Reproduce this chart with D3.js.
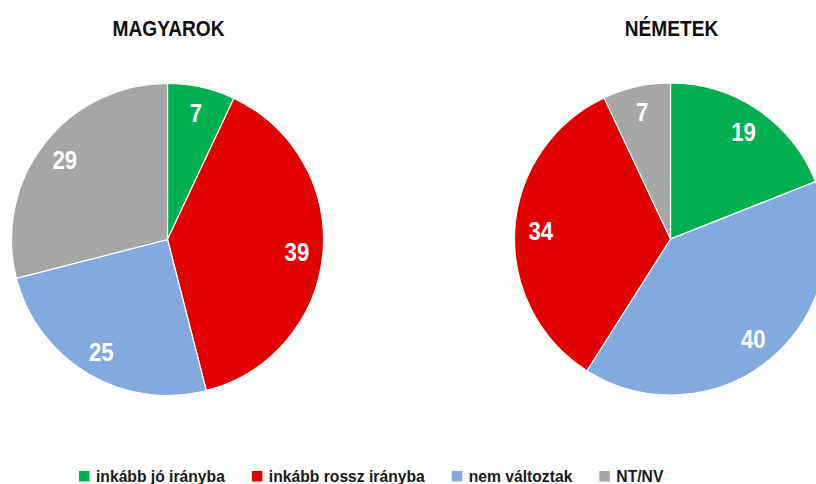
<!DOCTYPE html>
<html><head><meta charset="utf-8">
<script src="https://cdn.jsdelivr.net/npm/d3@7"></script>
<style>
html,body{margin:0;padding:0;background:#fff;}
svg{display:block;}
text{font-family:"Liberation Sans",Arial,sans-serif;font-weight:bold;}
</style></head>
<body>
<svg id="c" width="816" height="484"></svg>
<script>
const categories = ["inkább jó irányba","inkább rossz irányba","nem változtak","NT/NV"];
const colors = ["#00B050","#E00000","#82AADF","#A6A6A6"];
const titles = ["MAGYAROK","NÉMETEK"];
const magyarok = [7,39,25,29];
const nemetek = [19,34,40,7];
// clockwise slice order from 12 o'clock (indices into categories)
const orderMagyarok = [0,1,2,3];
const orderNemetek = [0,2,1,3];

const svg = d3.select("#c");
const R = 156, labelR = 130;
const sx = 0.87;

const pies = [
  {title:titles[0], values:magyarok, order:orderMagyarok, cx:167.5, cy:239.5},
  {title:titles[1], values:nemetek, order:orderNemetek, cx:670.5, cy:239}
];

const pie = d3.pie().sort(null).value(d => d.v);
const arc = d3.arc().innerRadius(0).outerRadius(R);
const labelArc = d3.arc().innerRadius(labelR).outerRadius(labelR);

pies.forEach(p => {
  const data = p.order.map(i => ({i, v:p.values[i]}));
  const g = svg.append("g").attr("transform", `translate(${p.cx},${p.cy})`);
  const arcs = pie(data);
  g.selectAll("path").data(arcs).join("path")
    .attr("d", arc)
    .attr("fill", d => colors[d.data.i])
    .attr("stroke", "#fff").attr("stroke-width", 1.2);
  g.selectAll("text.lbl").data(arcs).join("text").attr("class","lbl")
    .attr("transform", d => { const c = labelArc.centroid(d); return `translate(${c[0]},${c[1]}) scale(${sx},1)`; })
    .attr("text-anchor","middle").attr("dy","0.36em")
    .attr("fill","#fff").attr("font-size", 25.5)
    .text(d => d.data.v);
  svg.append("text")
    .attr("transform", `translate(${p.cx+1},36) scale(${sx},1)`)
    .attr("text-anchor","middle").attr("font-size", 22).attr("fill","#0d0d0d")
    .text(p.title);
});

// legend
const lg = svg.append("g");
let x = 79;
const ly = 476;
const lsx = 0.98;
categories.forEach((c,i) => {
  lg.append("rect").attr("x", x).attr("y", ly-5).attr("width",10.5).attr("height",10.5).attr("fill", colors[i]);
  const t = lg.append("text")
    .attr("transform", `translate(${x+17},${ly+5.8}) scale(${lsx},1)`)
    .attr("font-size", 16).attr("fill","#1a1a1a").text(c);
  const w = t.node().getComputedTextLength()*lsx;
  x += 17 + w + 27;
});
</script>
</body></html>
